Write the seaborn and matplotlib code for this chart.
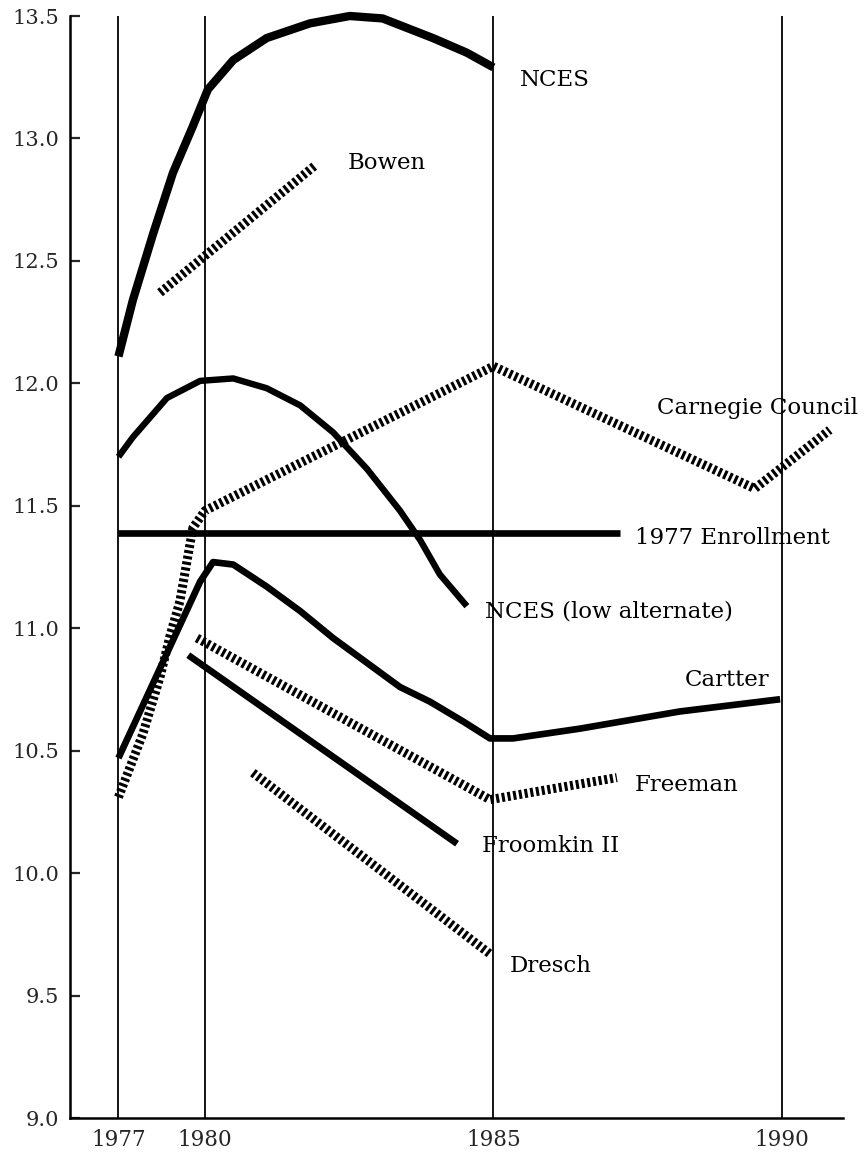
import numpy as np
import pandas as pd
import matplotlib
matplotlib.use("Agg")
import matplotlib.pyplot as plt
import seaborn as sns

# ---------------- data (years, millions enrolled) ----------------
nces_years = [1977.0, 1977.5, 1978.2, 1978.89, 1979.58, 1980.05, 1980.49, 1981.07,
              1981.82, 1982.51, 1983.08, 1983.95, 1984.54, 1985.0]
nces_vals = [12.11, 12.34, 12.61, 12.86, 13.05, 13.20, 13.32, 13.41,
             13.47, 13.50, 13.49, 13.41, 13.35, 13.29]

bowen_years = [1978.44, 1981.91]
bowen_vals = [12.37, 12.89]

low_years = [1977.0, 1977.5, 1978.68, 1979.83, 1980.49, 1981.07, 1981.65, 1982.22,
             1982.81, 1983.38, 1983.73, 1984.07, 1984.54]
low_vals = [11.70, 11.78, 11.94, 12.01, 12.02, 11.98, 11.91, 11.80,
            11.65, 11.48, 11.36, 11.22, 11.09]

carnegie_years = [1977.0, 1977.85, 1978.44, 1978.79, 1979.13, 1979.58, 1980.0,
                  1985.0, 1989.53, 1990.83]
carnegie_vals = [10.31, 10.57, 10.80, 10.97, 11.11, 11.41, 11.48,
                 12.07, 11.57, 11.81]

enroll_years = [1977.0, 1987.2]
enroll_vals = [11.39, 11.39]

cartter_years = [1977.0, 1979.83, 1980.14, 1980.49, 1981.07, 1981.65, 1982.22,
                 1983.38, 1983.90, 1984.47, 1984.94, 1985.34, 1986.50, 1988.23, 1989.97]
cartter_vals = [10.47, 11.19, 11.27, 11.26, 11.17, 11.07, 10.96,
                10.76, 10.70, 10.62, 10.55, 10.55, 10.59, 10.66, 10.71]

freeman_years = [1979.72, 1984.94, 1987.14]
freeman_vals = [10.96, 10.30, 10.39]

froomkin_years = [1979.42, 1984.37]
froomkin_vals = [10.89, 10.12]

dresch_years = [1980.83, 1984.94]
dresch_vals = [10.41, 9.67]

x_ticks = [1977, 1980, 1985, 1990]
x_ticklabels = ["1977", "1980", "1985", "1990"]
y_ticks = [9.0, 9.5, 10.0, 10.5, 11.0, 11.5, 12.0, 12.5, 13.0, 13.5]
y_ticklabels = ["9.0", "9.5", "10.0", "10.5", "11.0", "11.5", "12.0", "12.5", "13.0", "13.5"]

label_text = ["NCES", "Bowen", "Carnegie Council", "1977 Enrollment",
              "NCES (low alternate)", "Cartter", "Freeman", "Froomkin II", "Dresch"]
label_x = [1985.46, 1982.48, 1987.83, 1987.45, 1984.85, 1988.32, 1987.45, 1984.80, 1985.29]
label_y = [13.24, 12.90, 11.90, 11.37, 11.07, 10.79, 10.36, 10.11, 9.62]

# ---------------- style ----------------
sns.set_style("ticks")
plt.rcParams["font.family"] = ["DejaVu Serif"]

fig = plt.figure(figsize=(8.67, 11.6), dpi=100)
ax = fig.add_axes([70 / 867, 42 / 1160, 773 / 867, 1102 / 1160])

# compressed 1977-1980 segment (as in the original figure)
def fwd(x):
    x = np.asarray(x, dtype=float)
    return np.where(x < 1980, 1980 - (1980 - x) * 0.5, x)

def inv(t):
    t = np.asarray(t, dtype=float)
    return np.where(t < 1980, 1980 - (1980 - t) * 2.0, t)

ax.set_xscale("function", functions=(fwd, inv))
ax.set_xlim(1975.32, 1991.06)
ax.set_ylim(9.0, 13.5)

# vertical reference lines
ax.vlines(x_ticks, 9.0, 13.5, color="black", lw=1.3, zorder=1)

hatch = (0, (0.34, 0.30))
solid_series = [
    (nces_years, nces_vals, 6.0),
    (low_years, low_vals, 4.6),
    (enroll_years, enroll_vals, 4.8),
    (cartter_years, cartter_vals, 4.8),
    (froomkin_years, froomkin_vals, 4.8),
]
hatched_series = [
    (bowen_years, bowen_vals),
    (carnegie_years, carnegie_vals),
    (freeman_years, freeman_vals),
    (dresch_years, dresch_vals),
]

for xs, ys, lw in solid_series:
    sns.lineplot(x=xs, y=ys, ax=ax, color="black", lw=lw, sort=False,
                 estimator=None, solid_capstyle="butt", solid_joinstyle="round",
                 clip_on=False, zorder=3)
for xs, ys in hatched_series:
    sns.lineplot(x=xs, y=ys, ax=ax, color="black", lw=6.5, sort=False,
                 estimator=None, linestyle=hatch, dash_capstyle="butt",
                 dash_joinstyle="round", clip_on=False, zorder=3)

for t, x, y in zip(label_text, label_x, label_y):
    ax.text(x, y, t, fontsize=16.5, ha="left", va="center", color="black")

# axes styling
sns.despine(ax=ax, top=True, right=True)
for s in ("left", "bottom"):
    ax.spines[s].set_linewidth(1.8)
    ax.spines[s].set_color("black")

ax.set_xticks(x_ticks)
ax.set_xticklabels(x_ticklabels, fontsize=15.5)
ax.set_yticks(y_ticks)
ax.set_yticklabels(y_ticklabels, fontsize=15)
ax.tick_params(axis="x", length=0, pad=8)
ax.tick_params(axis="y", direction="in", length=7, width=1.6, pad=8)
ax.set_xlabel("")
ax.set_ylabel("")
ax.grid(False)

fig.savefig("out.png", dpi=100)
